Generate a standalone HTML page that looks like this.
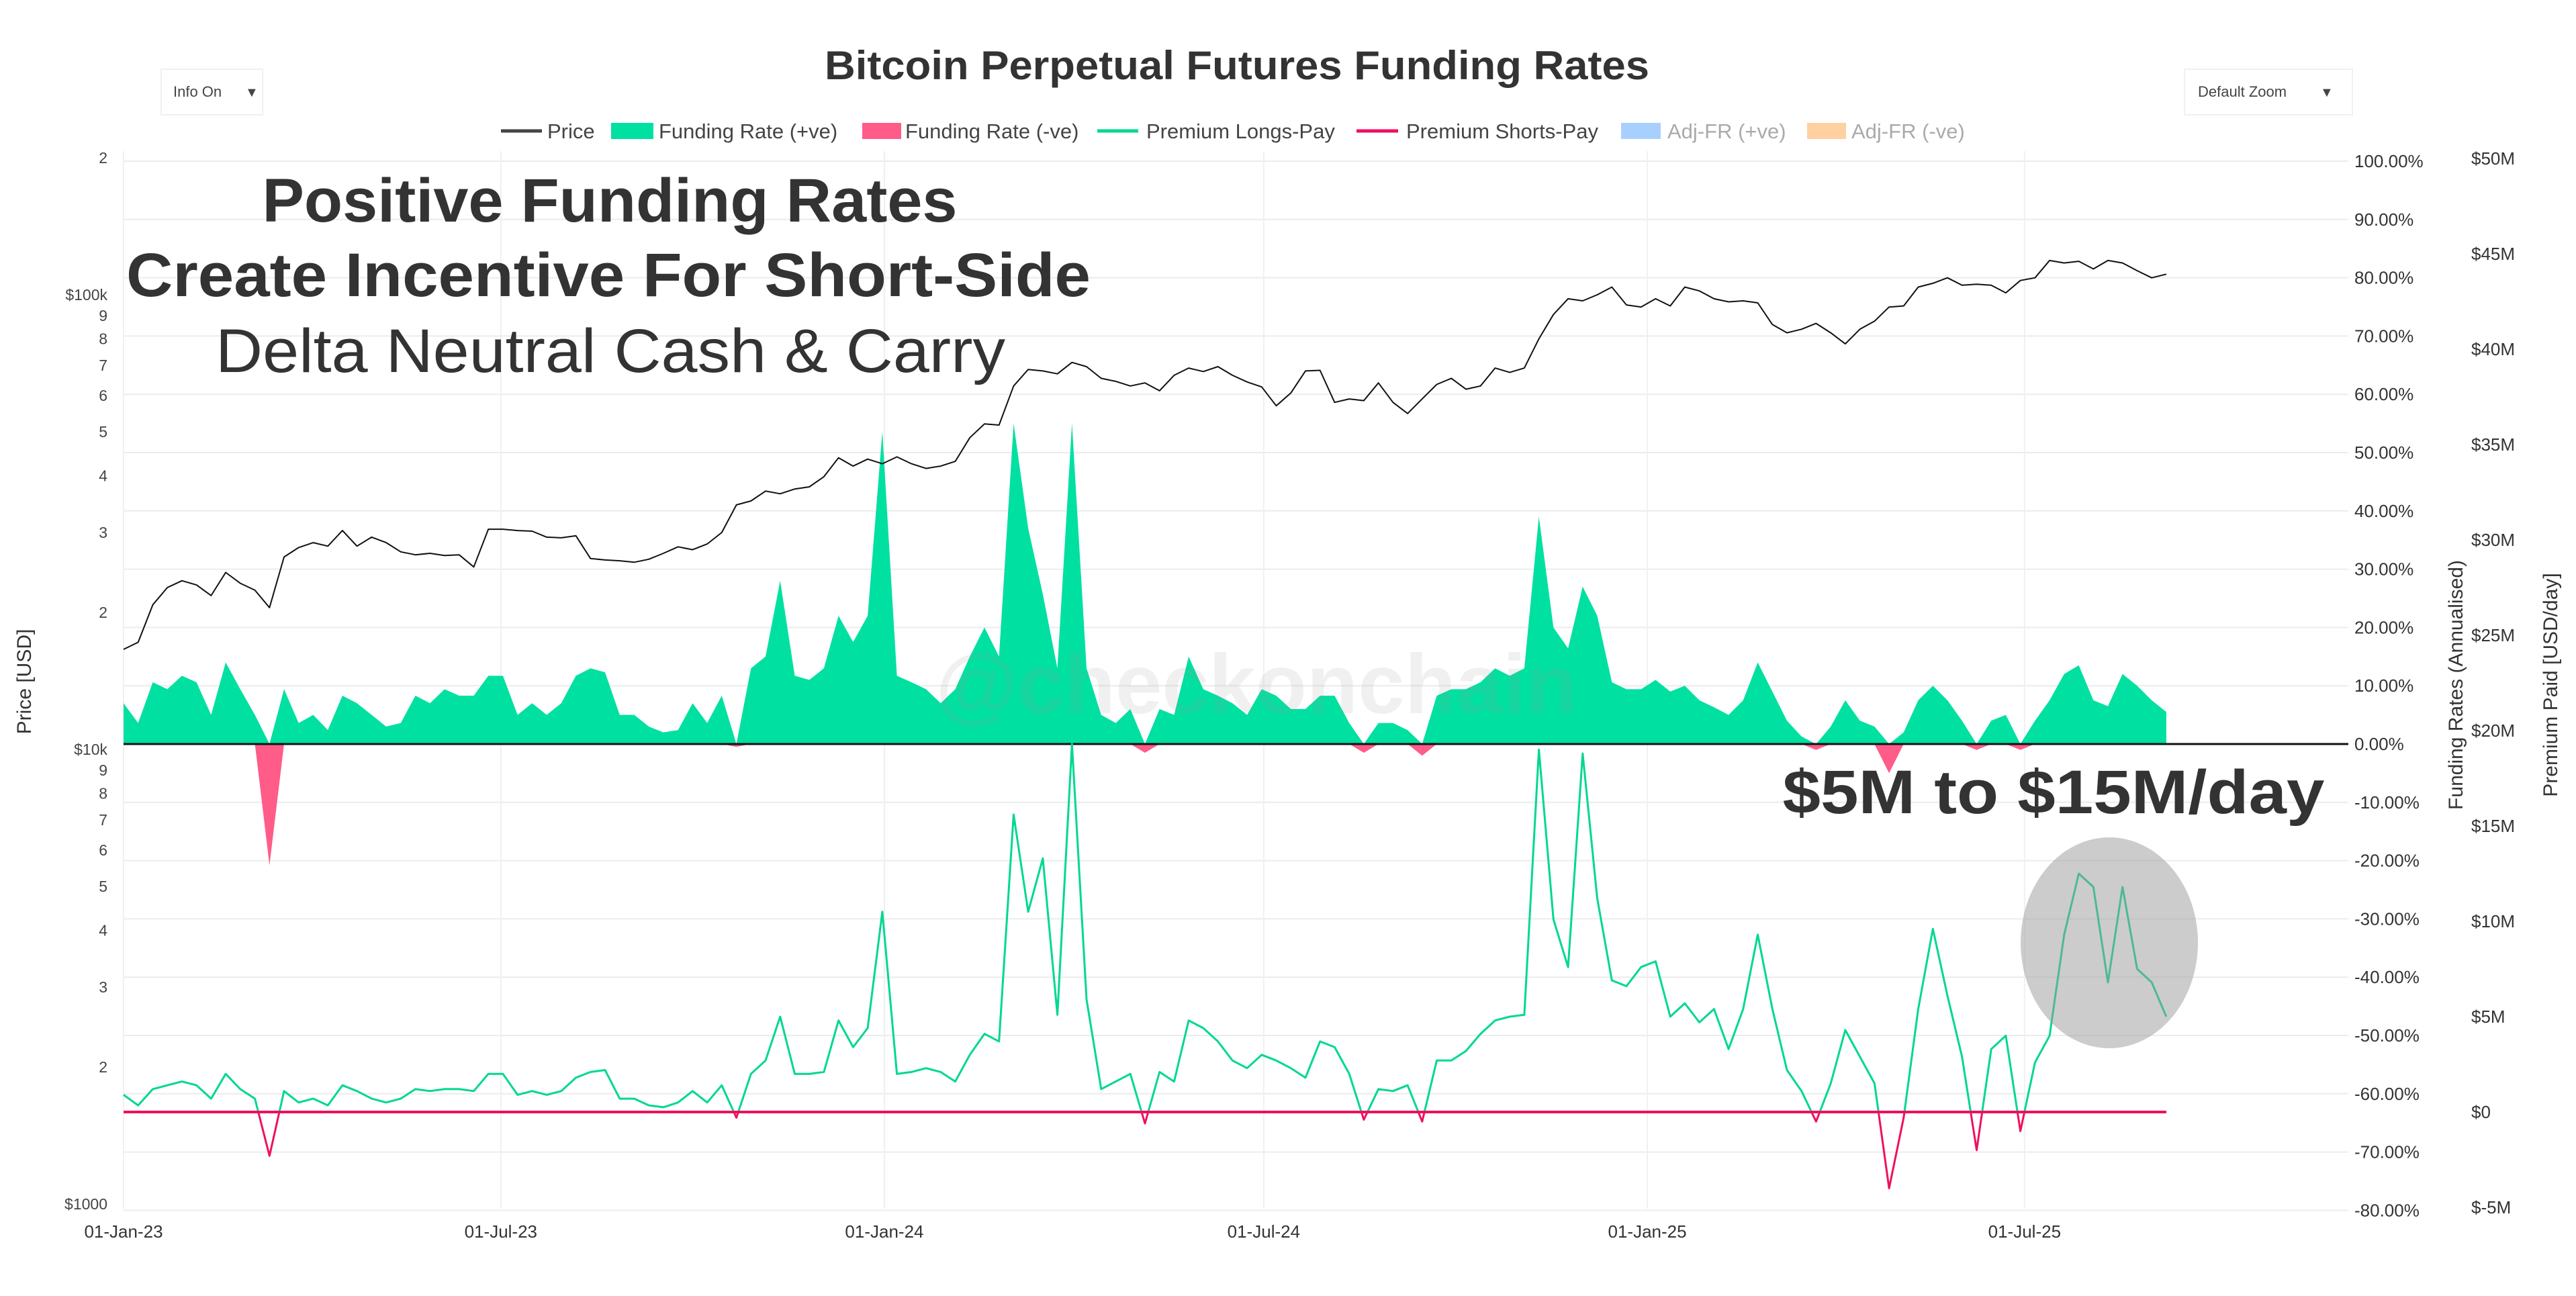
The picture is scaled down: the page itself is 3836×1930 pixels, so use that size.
<!DOCTYPE html>
<html><head><meta charset="utf-8"><title>Bitcoin Perpetual Futures Funding Rates</title>
<style>
html,body{margin:0;padding:0;background:#fff;}
svg{display:block;font-family:"Liberation Sans",sans-serif;}
</style></head>
<body>
<svg id="chart" width="3836" height="1930" viewBox="0 0 3836 1930" xmlns="http://www.w3.org/2000/svg">
  <rect x="0" y="0" width="3836" height="1930" fill="#fff"/>
  <g id="grid"></g>
  <g id="marks"></g>
  <g id="axes"></g>

  <text x="1842" y="118" text-anchor="middle" font-size="60" font-weight="bold" fill="#333" textLength="1228" lengthAdjust="spacingAndGlyphs">Bitcoin Perpetual Futures Funding Rates</text>

  <g>
    <rect x="240" y="103" width="151" height="68" fill="#fff" stroke="#f0f0f0" stroke-width="2"/>
    <text x="258" y="144" font-size="22" fill="#444">Info On</text>
    <text x="365" y="144" font-size="20" fill="#444">▼</text>
  </g>
  <g>
    <rect x="3253" y="103" width="250" height="68" fill="#fff" stroke="#f0f0f0" stroke-width="2"/>
    <text x="3273" y="144" font-size="22" fill="#444">Default Zoom</text>
    <text x="3455" y="144" font-size="20" fill="#444">▼</text>
  </g>

  <g font-size="31" fill="#444">
    <g><line x1="746" y1="195" x2="807" y2="195" stroke="#444" stroke-width="5"/><text x="815" y="206">Price</text></g>
    <g><rect x="910" y="183" width="63" height="24" fill="#00e0a0"/><text x="981" y="206">Funding Rate (+ve)</text></g>
    <g><rect x="1284" y="183" width="58" height="24" fill="#ff5c8a"/><text x="1348" y="206">Funding Rate (-ve)</text></g>
    <g><line x1="1634" y1="195" x2="1695" y2="195" stroke="#00d890" stroke-width="5"/><text x="1707" y="206">Premium Longs-Pay</text></g>
    <g><line x1="2020" y1="195" x2="2082" y2="195" stroke="#ee1060" stroke-width="5"/><text x="2094" y="206">Premium Shorts-Pay</text></g>
    <g><rect x="2414" y="183" width="59" height="24" fill="#a8d0ff"/><text x="2483" y="206" fill="#aaa">Adj-FR (+ve)</text></g>
    <g><rect x="2691" y="183" width="58" height="24" fill="#ffd0a0"/><text x="2757" y="206" fill="#aaa">Adj-FR (-ve)</text></g>
  </g>

  <text x="1871" y="1062" text-anchor="middle" font-size="125" font-weight="bold" fill="#999" fill-opacity="0.15">@checkonchain</text>

  <g fill="#333">
    <text x="908" y="330" text-anchor="middle" font-size="92" font-weight="bold" textLength="1035" lengthAdjust="spacingAndGlyphs">Positive Funding Rates</text>
    <text x="906" y="441" text-anchor="middle" font-size="92" font-weight="bold" textLength="1436" lengthAdjust="spacingAndGlyphs">Create Incentive For Short-Side</text>
    <text x="909" y="554" text-anchor="middle" font-size="92" textLength="1176" lengthAdjust="spacingAndGlyphs">Delta Neutral Cash &amp; Carry</text>
  </g>
  <text x="3058" y="1211" text-anchor="middle" font-size="92" font-weight="bold" fill="#333" textLength="807" lengthAdjust="spacingAndGlyphs">$5M to $15M/day</text>
  <ellipse cx="3141" cy="1404" rx="132" ry="157" fill="#999" fill-opacity="0.5"/>

  <text transform="translate(46,1015) rotate(-90)" text-anchor="middle" font-size="30" fill="#333">Price [USD]</text>
  <text transform="translate(3667,1020) rotate(-90)" text-anchor="middle" font-size="30" fill="#333">Funding Rates (Annualised)</text>
  <text transform="translate(3808,1020) rotate(-90)" text-anchor="middle" font-size="30" fill="#333">Premium Paid [USD/day]</text>
</svg>
<script>
// ---- data (weekly from 01-Jan-2023) ----
const weekStart = "2023-01-01";
const priceK = [16.6,17.2,20.8,22.7,23.5,23.0,21.8,24.5,23.2,22.4,20.5,26.5,27.8,28.5,28.0,30.3,28.0,29.3,28.5,27.2,26.8,27.0,26.7,26.8,25.2,30.5,30.5,30.3,30.2,29.3,29.2,29.5,26.3,26.1,26.0,25.8,26.2,27.0,27.9,27.5,28.3,30.0,34.5,35.2,37.0,36.5,37.4,37.8,39.8,43.8,42.0,43.5,42.5,
44.0,42.5,41.5,42.0,43.0,48.5,52.0,51.7,63.0,68.5,68.0,67.0,71.0,69.5,65.5,64.5,63.0,64.0,61.5,66.5,69.0,67.8,69.5,66.5,64.3,62.7,57.0,60.8,68.0,68.2,58.0,59.0,58.5,64.0,58.0,54.8,59.0,63.5,65.5,62.0,63.0,69.0,67.5,69.0,80.0,90.5,98.0,97.0,100.0,104.0,95.0,94.0,
98.0,94.5,104.0,102.0,98.0,96.5,97.0,96.0,86.0,82.5,84.0,86.5,82.5,78.0,84.0,87.5,94.0,94.5,104.0,106.0,109.0,105.0,105.5,105.0,101.0,107.5,109.0,119.0,117.5,118.5,114.0,119.0,117.5,113.0,109.0,111.0];
const fundingPct = [7,3.6,10.6,9.4,11.7,10.6,5,14,9.4,5,-20.8,9.4,3.6,5,2.4,8.3,7,5,3,3.6,8.3,7,9.4,8.3,8.3,11.7,11.7,5,7,5,7,11.7,13,12.3,5,5,3,2,2.4,7,3.6,8.3,-0.5,13,15,28,11.7,11,13,22,17.5,22,53.6,
11.7,10.6,9.4,7,9.4,15,20,15,55,37,25.7,13,55,13,5,3.6,6,-1.5,6,5,15,9.4,8.3,7,5,9.4,8.3,6,6,8.3,8.3,3.6,-1.5,3.6,3.6,2.4,-2,8.3,9.4,9.4,10.6,13,11.7,13,39,20,16.4,27,22,10.6,9.4,9.4,
11,9,10,7.5,6.3,5,7.5,14,9,4,1.3,-1,3,7.5,4,3,-5,2,7.5,10,7.5,4,-1,4,5,-1,4,7.5,12,13.5,7.5,6.5,12,10,7.5,5.5];
const premiumM = [0.9,0.35,1.2,1.4,1.6,1.4,0.7,2,1.2,0.7,-2.3,1.1,0.5,0.7,0.35,1.4,1.1,0.7,0.5,0.7,1.2,1.1,1.2,1.2,1.1,2,2,0.9,1.1,0.9,1.1,1.8,2.1,2.2,0.7,0.7,0.35,0.25,0.5,1.1,0.5,1.4,-0.3,2,2.7,5,2,2,2.1,4.8,3.4,4.4,10.5,
2,2.1,2.3,2.1,1.6,3,4.1,3.7,15.6,10.5,13.3,5.1,19.3,5.9,1.2,1.6,2,-0.6,2.1,1.6,4.8,4.4,3.7,2.7,2.3,3,2.7,2.3,1.8,3.7,3.4,2,-0.4,1.2,1.1,1.4,-0.5,2.7,2.7,3.2,4.1,4.8,5,5.1,19,10.1,7.6,18.8,11.2,6.9,6.6,7.6,
7.9,5,5.7,4.7,5.4,3.3,5.4,9.3,5.4,2.2,1.1,-0.5,1.5,4.3,2.9,1.5,-4,-0.3,5.4,9.6,6.1,2.9,-2,3.3,4,-1,2.6,4,9.3,12.5,11.8,6.8,11.8,7.5,6.8,5];
const dateTicks = ["01-Jan-23","01-Jul-23","01-Jan-24","01-Jul-24","01-Jan-25","01-Jul-25"];
const dateTickDays = [0,181,365,547,731,912];
const pctTicks = [100,90,80,70,60,50,40,30,20,10,0,-10,-20,-30,-40,-50,-60,-70,-80];
const usdTicks = [50,45,40,35,30,25,20,15,10,5,0,-5];
const priceTicks = [1000,2000,3000,4000,5000,6000,7000,8000,9000,10000,20000,30000,40000,50000,60000,70000,80000,90000,100000,200000];
const priceTickLabels = ["$1000","2","3","4","5","6","7","8","9","$10k","2","3","4","5","6","7","8","9","$100k","2"];

// ---- scales ----
const X0 = 184, PXDAY = 3.104, XR = 3497;
const xDay = d => X0 + d * PXDAY;
const xWeek = w => xDay(w * 7);
const yPrice = p => 1793 - (Math.log10(p) - 3) * 677;
const yPct = v => 1108 - v * 8.68;
const yUsd = m => 1656 - m * 28.4;
const NS = "http://www.w3.org/2000/svg";
function mk(tag, attrs, parent) {
  const e = document.createElementNS(NS, tag);
  for (const k in attrs) e.setAttribute(k, attrs[k]);
  parent.appendChild(e);
  return e;
}
const grid = document.getElementById('grid');
const marks = document.getElementById('marks');
const axes = document.getElementById('axes');

pctTicks.forEach(v => {
  const l = mk('line', {x1: X0, x2: XR, y1: yPct(v), y2: yPct(v), stroke: '#ececec', 'stroke-width': 2}, grid);
  
  
  const t = mk('text', {x: 3506, y: yPct(v) + 9, 'font-size': 26, fill: '#333'}, axes);
  t.textContent = v.toFixed(2) + '%';
  
  
});
dateTickDays.forEach((d, i) => {
  const l = mk('line', {x1: xDay(d), x2: xDay(d), y1: 225, y2: 1800, stroke: '#f0f0f0', 'stroke-width': 2}, grid);
  
  
  const t = mk('text', {x: xDay(d), y: 1843, 'font-size': 26, fill: '#333', 'text-anchor': 'middle'}, axes);
  t.textContent = dateTicks[i];
  
  
});
usdTicks.forEach(m => {
  const t = mk('text', {x: 3680, y: yUsd(m) + 9, 'font-size': 26, fill: '#333'}, axes);
  t.textContent = m < 0 ? '$-' + Math.abs(m) + 'M' : (m === 0 ? '$0' : '$' + m + 'M');
  
  
});
priceTicks.forEach((p, i) => {
  const t = mk('text', {x: 160, y: yPrice(p) + 8, 'font-size': 23, fill: '#444', 'text-anchor': 'end'}, axes);
  t.textContent = priceTickLabels[i];
  
  
});

const n = fundingPct.length;
const xLast = xWeek(n - 1);
let pos = 'M' + X0 + ',' + yPct(0), neg = 'M' + X0 + ',' + yPct(0);
fundingPct.forEach((v, i) => {
  pos += ' L' + xWeek(i).toFixed(1) + ',' + yPct(Math.max(v, 0)).toFixed(1);
  neg += ' L' + xWeek(i).toFixed(1) + ',' + yPct(Math.min(v, 0)).toFixed(1);
});
pos += ' L' + xLast + ',' + yPct(0) + ' Z';
neg += ' L' + xLast + ',' + yPct(0) + ' Z';
const ap = mk('path', {d: pos, fill: '#00e0a0'}, marks);


const an = mk('path', {d: neg, fill: '#ff5c8a'}, marks);


const zl = mk('line', {x1: X0, x2: XR, y1: yPct(0), y2: yPct(0), stroke: '#111', 'stroke-width': 3}, marks);



const defs = mk('defs', {}, marks);
const cA = mk('clipPath', {id: 'above'}, defs);
mk('rect', {x: 0, y: 0, width: 3836, height: yUsd(0)}, cA);
const cB = mk('clipPath', {id: 'below'}, defs);
mk('rect', {x: 0, y: yUsd(0), width: 3836, height: 400}, cB);
let pd = '';
premiumM.forEach((m, i) => { pd += (i ? ' L' : 'M') + xWeek(i).toFixed(1) + ',' + yUsd(m).toFixed(1); });
const pl = mk('path', {d: pd, fill: 'none', stroke: '#00d890', 'stroke-width': 3, 'stroke-linejoin': 'round', 'clip-path': 'url(#above)'}, marks);


const ps = mk('path', {d: pd, fill: 'none', stroke: '#ee1060', 'stroke-width': 3, 'stroke-linejoin': 'round', 'clip-path': 'url(#below)'}, marks);


const pz = mk('line', {x1: X0, x2: xLast, y1: yUsd(0), y2: yUsd(0), stroke: '#ee1060', 'stroke-width': 4}, marks);



let pr = '';
priceK.forEach((p, i) => { pr += (i ? ' L' : 'M') + xWeek(i).toFixed(1) + ',' + yPrice(p * 1000).toFixed(1); });
const pp = mk('path', {d: pr, fill: 'none', stroke: '#111', 'stroke-width': 2, 'stroke-linejoin': 'round'}, marks);


</script>
</body></html>
